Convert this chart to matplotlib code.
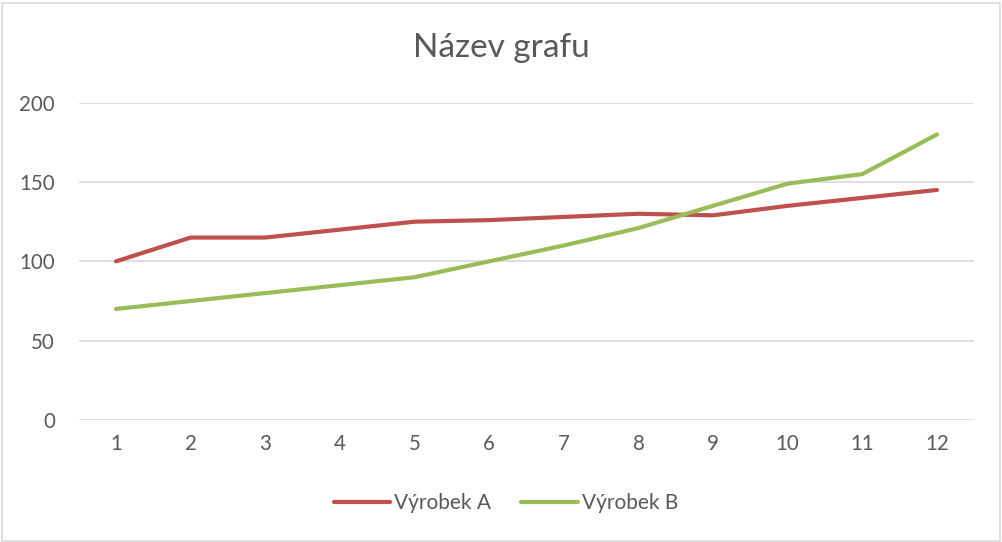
import matplotlib
matplotlib.use("Agg")
import matplotlib.pyplot as plt
from matplotlib.patches import Rectangle

plt.rcParams['font.family'] = ['Lato', 'DejaVu Sans']

months = [1, 2, 3, 4, 5, 6, 7, 8, 9, 10, 11, 12]
vyrobek_a = [100, 115, 115, 120, 125, 126, 128, 130, 129, 135, 140, 145]
vyrobek_b = [70, 75, 80, 85, 90, 100, 110, 121, 135, 149, 155, 180]
y_ticks = [0, 50, 100, 150, 200]

txt = '#595959'
grid = '#D9D9D9'

fig = plt.figure(figsize=(10.02, 5.42), dpi=100)
ax = fig.add_axes([78.7 / 1002, 122 / 542, (974.3 - 78.7) / 1002, (420 - 102.7) / 542])

ax.plot(months, vyrobek_a, color='#C0504D', lw=3, solid_capstyle='round',
        solid_joinstyle='round', label='Výrobek A')
ax.plot(months, vyrobek_b, color='#9BBB59', lw=3, solid_capstyle='round',
        solid_joinstyle='round', label='Výrobek B')

ax.set_xlim(0.5, 12.5)
ax.set_ylim(0, 200)
ax.set_xticks(months)
ax.set_yticks(y_ticks)
ax.tick_params(length=0, colors=txt, labelsize=14.8)
ax.tick_params(axis='y', pad=17)
ax.tick_params(axis='x', pad=10)
for s in ax.spines.values():
    s.set_visible(False)
ax.grid(axis='y', color=grid, lw=1.2)
ax.set_axisbelow(True)

fig.text(0.5, 1 - 48 / 542, 'Název grafu', ha='center', va='center',
         fontsize=24, color=txt)

fig.legend(loc='center', bbox_to_anchor=(0.505, 1 - 503 / 542), ncol=2,
           frameon=False, fontsize=15, labelcolor=txt, handlelength=2.7,
           handletextpad=0.2, columnspacing=1.45)

fig.patches.append(Rectangle((2 / 1002, 1 / 542), 998 / 1002, 538 / 542,
                             transform=fig.transFigure, fill=False,
                             edgecolor=grid, lw=1.2))

fig.savefig('out.png', dpi=100, facecolor='white')
